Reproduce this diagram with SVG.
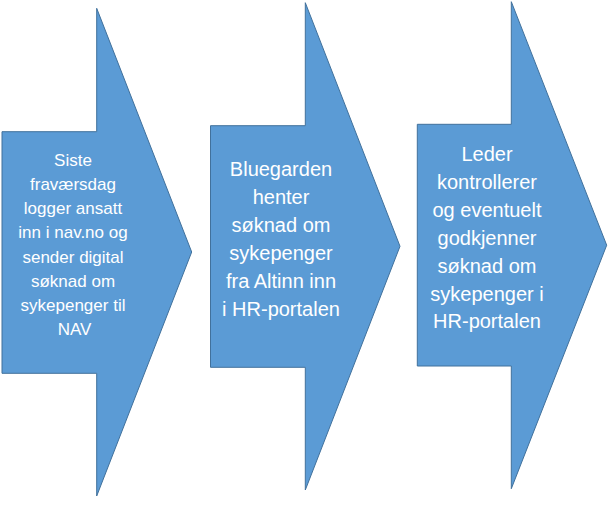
<svg xmlns="http://www.w3.org/2000/svg" width="614" height="509" viewBox="0 0 614 509">
<style>
.arrow{fill:#5B9BD5;stroke:#41719C;stroke-width:1}
.t{font-family:"Liberation Sans",Arial,sans-serif;fill:#FFFFFF;text-anchor:middle}
.s1{font-size:17px}
.s2{font-size:20px}
</style>
<rect width="614" height="509" fill="#FFFFFF"/>
<g id="connectors"></g>
<g id="step1">
<path class="arrow" d="M2,131.7 H96.7 V8.3 L191.7,252 L96.7,496 V373.3 H2 Z"/>
<text class="t s1" x="74"><tspan x="73" y="166">Siste</tspan><tspan x="73" y="190.1">fraværsdag</tspan><tspan x="73" y="214.3">logger ansatt</tspan><tspan x="73" y="238.4">inn i nav.no og</tspan><tspan x="73" y="262.6">sender digital</tspan><tspan x="73" y="286.7">søknad om</tspan><tspan x="73" y="310.9">sykepenger til</tspan><tspan x="74.5" y="335">NAV</tspan></text>
</g>
<g id="step2">
<path class="arrow" d="M210.5,125.7 H305.3 V2.7 L400,246.3 L305.3,490 V367.3 H210.5 Z"/>
<text class="t s2"><tspan x="281" y="176">Bluegarden</tspan><tspan x="281" y="203.9">henter</tspan><tspan x="281" y="231.8">søknad om</tspan><tspan x="281" y="259.7">sykepenger</tspan><tspan x="281" y="287.6">fra Altinn inn</tspan><tspan x="281" y="315.5">i HR-portalen</tspan></text>
</g>
<g id="step3">
<path class="arrow" d="M417.3,124.3 H511.3 V1.7 L606.7,245.2 L511.3,488.7 V366 H417.3 Z"/>
<text class="t s2"><tspan x="487" y="161">Leder</tspan><tspan x="487" y="188.9">kontrollerer</tspan><tspan x="487" y="216.8">og eventuelt</tspan><tspan x="487" y="244.7">godkjenner</tspan><tspan x="487" y="272.6">søknad om</tspan><tspan x="487" y="300.5">sykepenger i</tspan><tspan x="487" y="328.4">HR-portalen</tspan></text>
</g>
</svg>
